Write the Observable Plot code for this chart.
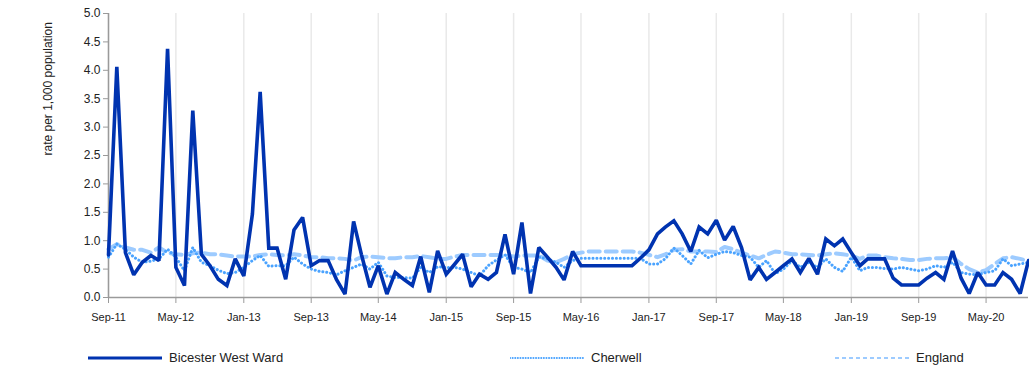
<!DOCTYPE html>
<html>
<head>
<meta charset="utf-8">
<script src="https://cdn.jsdelivr.net/npm/d3@7"></script>
<script src="https://cdn.jsdelivr.net/npm/@observablehq/plot@0.6"></script>
<style>
  body { margin: 0; background: #fff; font-family: "Liberation Sans", Arial, sans-serif; }
  #wrap { position: relative; width: 1029px; height: 367px; overflow: hidden; }
  #legend { position: absolute; left: 0; top: 346px; width: 1029px; height: 22px; font-size: 13px; color: #222; }
  .item { position: absolute; top: 0; display: flex; align-items: center; height: 22px; }
  .item svg { margin-right: 7px; }
</style>
</head>
<body>
<div id="wrap">
  <div id="chart"></div>
  <div id="legend"></div>
</div>
<script>
// ---- data (monthly, Sep-11 .. Oct-20) ----
const startMonth = "2011-09";
const seriesNames = ["Bicester West Ward", "Cherwell", "England"];
const bicester = [
  0.75, 4.06, 0.79, 0.40, 0.62, 0.74, 0.65, 4.38, 0.53, 0.21,
  3.29, 0.76, 0.56, 0.32, 0.21, 0.68, 0.38, 1.47, 3.62, 0.87,
  0.87, 0.32, 1.19, 1.41, 0.56, 0.65, 0.65, 0.32, 0.06, 1.34,
  0.76, 0.18, 0.56, 0.06, 0.44, 0.32, 0.21, 0.72, 0.09, 0.82,
  0.41, 0.59, 0.76, 0.19, 0.41, 0.32, 0.44, 1.11, 0.41, 1.32,
  0.07, 0.88, 0.71, 0.53, 0.31, 0.81, 0.56, 0.56, 0.56, 0.56,
  0.56, 0.56, 0.56, 0.69, 0.84, 1.12, 1.24, 1.35, 1.12, 0.81,
  1.24, 1.12, 1.36, 1.01, 1.25, 0.88, 0.31, 0.53, 0.32, 0.44,
  0.56, 0.68, 0.44, 0.69, 0.41, 1.03, 0.91, 1.03, 0.79, 0.56,
  0.68, 0.68, 0.68, 0.34, 0.22, 0.22, 0.22, 0.34, 0.44, 0.32,
  0.82, 0.34, 0.07, 0.44, 0.22, 0.22, 0.44, 0.32, 0.07, 0.65
];
const cherwell = [
  0.71, 0.94, 0.85, 0.71, 0.62, 0.64, 0.68, 0.85, 0.71, 0.47,
  0.88, 0.62, 0.56, 0.48, 0.42, 0.44, 0.53, 0.65, 0.74, 0.55,
  0.56, 0.56, 0.71, 0.59, 0.50, 0.46, 0.44, 0.40, 0.47, 0.53,
  0.59, 0.50, 0.62, 0.38, 0.35, 0.35, 0.34, 0.53, 0.44, 0.54,
  0.53, 0.53, 0.50, 0.44, 0.38, 0.56, 0.66, 0.75, 0.53, 0.50,
  0.44, 0.71, 0.68, 0.62, 0.53, 0.65, 0.69, 0.69, 0.69, 0.69,
  0.69, 0.69, 0.69, 0.69, 0.59, 0.59, 0.68, 0.87, 0.74, 0.59,
  0.83, 0.70, 0.76, 0.81, 0.79, 0.74, 0.71, 0.53, 0.65, 0.42,
  0.50, 0.65, 0.53, 0.62, 0.53, 0.68, 0.53, 0.46, 0.71, 0.47,
  0.53, 0.53, 0.51, 0.50, 0.53, 0.50, 0.47, 0.50, 0.56, 0.53,
  0.62, 0.44, 0.41, 0.40, 0.44, 0.47, 0.68, 0.56, 0.59, 0.62
];
const england = [
  0.85, 0.94, 0.88, 0.84, 0.84, 0.79, 0.88, 0.79, 0.76, 0.75,
  0.78, 0.79, 0.76, 0.76, 0.74, 0.72, 0.72, 0.72, 0.75, 0.76,
  0.75, 0.74, 0.76, 0.74, 0.71, 0.71, 0.69, 0.69, 0.68, 0.65,
  0.71, 0.72, 0.71, 0.69, 0.69, 0.71, 0.71, 0.73, 0.71, 0.68,
  0.68, 0.72, 0.75, 0.75, 0.75, 0.75, 0.75, 0.74, 0.72, 0.74,
  0.74, 0.74, 0.65, 0.62, 0.68, 0.76, 0.79, 0.81, 0.81, 0.81,
  0.81, 0.81, 0.81, 0.79, 0.75, 0.71, 0.76, 0.84, 0.85, 0.81,
  0.81, 0.81, 0.80, 0.89, 0.85, 0.79, 0.74, 0.69, 0.75, 0.81,
  0.79, 0.76, 0.76, 0.75, 0.74, 0.76, 0.78, 0.76, 0.74, 0.68,
  0.74, 0.74, 0.71, 0.69, 0.68, 0.66, 0.66, 0.68, 0.69, 0.69,
  0.71, 0.59, 0.50, 0.44, 0.48, 0.59, 0.69, 0.71, 0.68, 0.64
];
const xTickLabels = ["Sep-11","May-12","Jan-13","Sep-13","May-14","Jan-15","Sep-15","May-16","Jan-17","Sep-17","May-18","Jan-19","Sep-19","May-20"];
const yTicks = [0, 0.5, 1, 1.5, 2, 2.5, 3, 3.5, 4, 4.5, 5];
const yLabel = "rate per 1,000 population";

// ---- styles ----
const colors = ["#0033b0", "#4aa3ff", "#9dcbff"];

const parseTick = d3.utcParse("%b-%y");
const start = d3.utcParse("%Y-%m")(startMonth);
const monthDate = i => d3.utcMonth.offset(start, i);
const rows = [];
[bicester, cherwell, england].forEach((arr, s) => arr.forEach((v, i) => rows.push({series: seriesNames[s], date: monthDate(i), value: v})));
const tickDates = xTickLabels.map(parseTick);
const end = monthDate(bicester.length - 1);

const byS = name => rows.filter(r => r.series === name);
const axisGray = "#9a9a9a";

const chart = Plot.plot({
  width: 1029,
  height: 340,
  marginLeft: 108,
  marginRight: 1,
  marginTop: 13,
  marginBottom: 43,
  style: {fontFamily: '"Liberation Sans", Arial, sans-serif', color: "#222", background: "#fff"},
  x: {type: "utc", domain: [start, end]},
  y: {domain: [0, 5]},
  marks: [
    Plot.gridX(tickDates, {stroke: "#e9e9e9", strokeOpacity: 1, strokeWidth: 1.5}),
    Plot.axisX(tickDates, {tickFormat: d3.utcFormat("%b-%y"), tickSize: 6, tickPadding: 10, fontSize: 11, stroke: axisGray, label: null}),
    Plot.axisY(yTicks, {tickFormat: d => d.toFixed(1), tickSize: 5, tickPadding: 3, fontSize: 12, stroke: axisGray, label: null}),
    Plot.ruleY([0], {stroke: axisGray, strokeWidth: 1.5}),
    Plot.ruleX([start], {stroke: axisGray, strokeWidth: 1.5}),
    Plot.text([yLabel], {frameAnchor: "left", dx: -60, rotate: -90, fontSize: 12, fill: "#222"}),
    Plot.line(byS("England"), {x: "date", y: "value", stroke: colors[2], strokeWidth: 4, strokeDasharray: "11,6"}),
    Plot.line(byS("Cherwell"), {x: "date", y: "value", stroke: colors[1], strokeWidth: 3, strokeDasharray: "0.1,3.8", strokeLinecap: "round"}),
    Plot.line(byS("Bicester West Ward"), {x: "date", y: "value", stroke: colors[0], strokeWidth: 3.6, strokeLinejoin: "miter", strokeMiterlimit: 2})
  ]
});
document.getElementById("chart").appendChild(chart);

// ---- legend ----
const legendPos = [88, 510, 835];
const legendStyles = [
  {w: 3, dash: null, cap: "butt"},
  {w: 2, dash: "0.1,2.5", cap: "round"},
  {w: 2, dash: "4,3", cap: "butt"}
];
const legend = document.getElementById("legend");
seriesNames.forEach((name, i) => {
  const item = document.createElement("div");
  item.className = "item";
  item.style.left = legendPos[i] + "px";
  const st = legendStyles[i];
  item.innerHTML = `<svg width="74" height="10"><line x1="0" x2="74" y1="6" y2="6" stroke="${colors[i]}" stroke-width="${st.w}" stroke-linecap="${st.cap}" ${st.dash ? `stroke-dasharray="${st.dash}"` : ""}/></svg><span>${name}</span>`;
  legend.appendChild(item);
});
</script>
</body>
</html>
